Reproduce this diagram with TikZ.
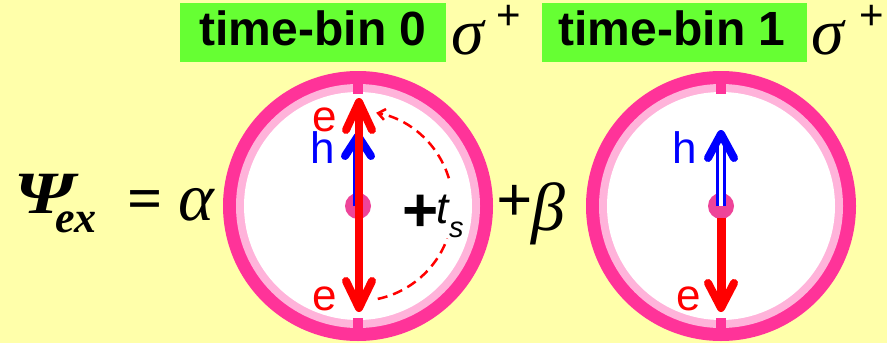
\documentclass[tikz,border=0pt]{standalone}
\usepackage{fontspec}
\setmainfont{Liberation Serif}
\newfontfamily\arial{Liberation Sans}
\usetikzlibrary{arrows.meta}
\definecolor{bgy}{HTML}{FFFFAA}
\definecolor{tgreen}{HTML}{66FF33}
\definecolor{ringdark}{HTML}{FF3399}
\definecolor{ringlight}{HTML}{FFB3DA}
\definecolor{dotpink}{HTML}{EE4499}
\definecolor{ered}{HTML}{FF0000}
\definecolor{hblue}{HTML}{0000FF}
\newcommand{\fs}[1]{\fontsize{#1}{#1}\selectfont}
\begin{document}
\begin{tikzpicture}[x=1pt,y=-1pt,
  txt/.style={inner sep=0pt, outer sep=0pt, anchor=base west},
  chev/.style={line width=8pt, line cap=round, line join=round},
  stem/.style={line width=8pt},
  hstem/.style={hblue, line width=3.3pt, double=white, double distance=3.3pt},
  lbl/.style={inner sep=0pt, anchor=base west, font=\arial\fs{44}, text height=31pt, text depth=0pt},
  supplus/.style={inner sep=0pt, anchor=base, font=\arial\fs{42}, text height=24pt, text depth=0pt},
  dasharc/.style={ered, line width=2.5pt, dash pattern=on 10pt off 6pt},
  clockface/.pic={
    \fill[ringdark] (0,0) circle[radius=135];
    \fill[ringlight] (0,0) circle[radius=122];
    \fill[white] (0,0) circle[radius=114];
    \fill[ringdark] (-5,-124) rectangle (5,-112);
    \fill[ringdark] (-5,112) rectangle (5,124);
    \fill[dotpink] (0,0) circle[radius=13];
  }]
\fill[bgy] (0,0) rectangle (887,343);
\useasboundingbox (0,0) rectangle (887,343);

% top labels
\fill[tgreen] (180,3) rectangle (446,62);
\node[inner sep=0pt, anchor=base] (tb0) at (313,45) {\arial\bfseries\fs{48}time-bin 0};
\node[txt] (s0) at (451,54) {\itshape\fs{66}σ};
\node[supplus] (p0) at (509,29) {+};
\fill[tgreen] (542,3) rectangle (807,62);
\node[inner sep=0pt, anchor=base] (tb1) at (672,45) {\arial\bfseries\fs{48}time-bin 1};
\node[txt] (s1) at (811,54) {\itshape\fs{66}σ};
\node[supplus] (p1) at (872,29) {+};

% clocks
\coordinate (c1) at (358,206);
\coordinate (c2) at (721,206);
\pic at (c1) {clockface};
\pic at (c2) {clockface};

% clock 1 arrows
\draw[hstem] (c1) -- (358,140);
\draw[chev, hblue] (345,156) -- (358,136) -- (371,156);
\draw[stem, ered] (359,104) -- (359,306);
\draw[chev, ered] (346,130) -- (359,102) -- (372,130);
\draw[chev, ered] (346,281) -- (359,308) -- (372,281);
% dashed arc
\draw[dasharc] (c1) ++(78:95) arc[start angle=78, end angle=20, radius=95];
\draw[dasharc, -{Straight Barb[length=7pt, width=11pt]}] (c1) ++(-17:95) arc[start angle=-17, end angle=-79, radius=95];
\node[inner sep=0pt] (plus) at (421,213) {\arial\bfseries\fs{62}\makebox[26pt][c]{+}};
\node[txt] (t) at (436,223) {\arial\itshape\fs{44}t};
\node[txt] (s) at (449,237) {\arial\itshape\fs{29}s};
\node[lbl, text=ered] (e1) at (312,131) {e};
\node[lbl, text=hblue] (h1) at (310,163) {h};
\node[lbl, text=ered] (e2) at (312,310) {e};

% clock 2 arrows
\draw[hstem] (c2) -- (721,140);
\draw[chev, hblue] (708,158) -- (721,134) -- (734,158);
\draw[line width=9pt, ered] (721,218) -- (721,305);
\draw[chev, ered] (708,283) -- (721,308) -- (734,283);
\node[lbl, text=hblue] (h2) at (672,163) {h};
\node[lbl, text=ered] (e3) at (676,310) {e};

% equation
\node[txt, text depth=0pt] (psi) at (15,213) {\bfseries\itshape\fs{60}\scalebox{1.25}[1]{Ψ}};
\node[txt, text height=18pt] (ex) at (55,232) {\bfseries\itshape\fs{44}ex};
\node[inner sep=0pt] (eq) at (145,205) {\bfseries\fs{62}=};
\node[txt] (al) at (178,220) {\itshape\fs{68}α};
\node[inner sep=0pt] (pl) at (515,203) {\bfseries\fs{64}+};
\node[txt] (be) at (531,230) {\itshape\fs{68}β};
\end{tikzpicture}
\end{document}
